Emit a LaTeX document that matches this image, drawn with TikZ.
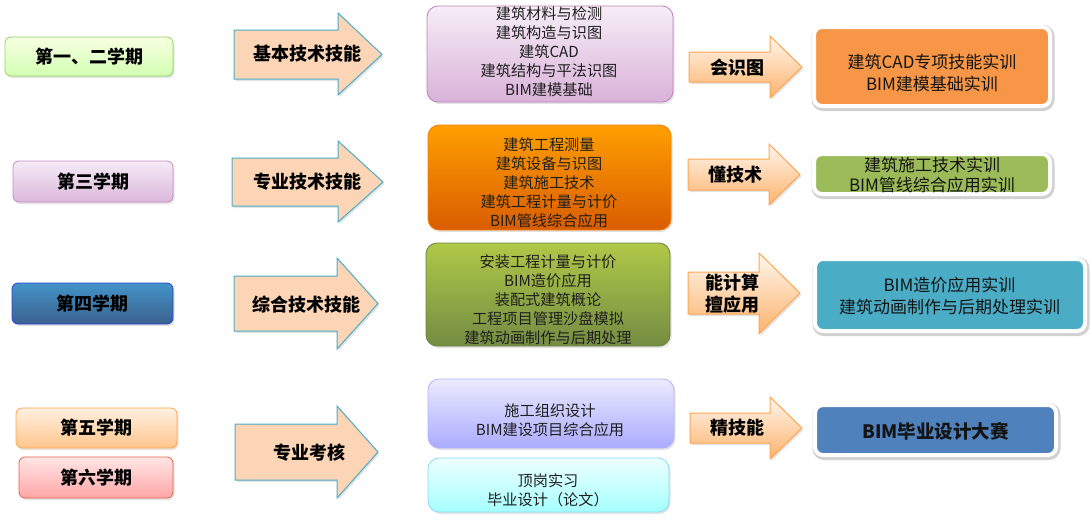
\documentclass[tikz,border=0pt]{standalone}
\usepackage{fontspec}
\setmainfont{Noto Sans CJK SC}
\usetikzlibrary{shadows}
\definecolor{rorange}{HTML}{F79646}
\definecolor{rgreen}{HTML}{9BBB59}
\definecolor{rteal}{HTML}{4BACC6}
\definecolor{rblue}{HTML}{4F81BD}
\definecolor{peach}{HTML}{FBD5B5}
\definecolor{bigedge}{HTML}{4BACC6}
\newcommand\blkarrow[8]{%
  \path[#1] (#2,#3) -- (#5,#3) -- (#5,#6) -- (#8,{(#3+#4)/2}) -- (#5,#7) -- (#5,#4) -- (#2,#4) -- cycle;}
\tikzset{
  shad/.style={drop shadow={opacity=0.22,shadow xshift=1.5pt,shadow yshift=-2pt}},
  sem/.style={rounded corners=6pt, line width=0.8pt, shad, inner sep=0pt,
    font=\fontsize{18}{22}\selectfont\bfseries},
  mbox/.style={rounded corners=11pt, line width=0.8pt, shad, inner sep=0pt},
  mtext/.style={align=center, inner sep=0pt, text=black!88,
    font=\fontsize{15.2}{19}\selectfont},
  rbox/.style={rounded corners=8pt, draw=white, line width=4pt, inner sep=0pt,
    drop shadow={opacity=0.18, shadow xshift=1pt, shadow yshift=-1.5pt,
      fill=black, draw=black, line width=7pt}},
  rtext/.style={align=center, inner sep=0pt, text=black!92,
    font=\fontsize{17}{22}\selectfont},
  lbl/.style={inner sep=0pt, align=center, font=\fontsize{18}{22}\selectfont\bfseries},
  bigarr/.style={fill=peach, draw=bigedge, line width=1pt, line join=miter, shad},
  smallarr/.style={top color=orange!7!white, bottom color=orange!40!peach,
    draw=orange!55!peach, line width=1pt, shad},
}
\begin{document}
\begin{tikzpicture}[x=1pt,y=-1pt]
\useasboundingbox (0,0) rectangle (1090,520);

% semester boxes
\node[sem, draw=green!45!olive!60, top color=lime!12!white, bottom color=lime!55!green!30!white,
  minimum width=168pt, minimum height=39pt] (s12) at (89,56.5) {第一、二学期};
\node[sem, draw=violet!45!white, top color=violet!8!white, bottom color=violet!28!white,
  minimum width=160pt, minimum height=41pt] (s3) at (93,181.5) {第三学期};
\node[sem, draw=blue!50!rblue, top color=rblue!85!cyan, bottom color=rblue!75!black,
  minimum width=161pt, minimum height=41pt] (s4) at (92.5,303.5) {第四学期};
\node[sem, draw=orange!70!white, top color=orange!12!white, bottom color=orange!45!white,
  minimum width=161pt, minimum height=40pt] (s5) at (96.5,428) {第五学期};
\node[sem, draw=red!55!brown!80, top color=red!10!white, bottom color=red!35!white,
  minimum width=154pt, minimum height=41pt] (s6) at (96,477.5) {第六学期};

% big arrows
\blkarrow{bigarr}{234}{30}{79}{338}{13}{95}{382}
\blkarrow{bigarr}{232}{158}{206}{338}{141}{222}{383}
\blkarrow{bigarr}{234}{276}{331}{337}{258}{349}{378}
\blkarrow{bigarr}{235}{424}{480}{337}{406}{498}{378}
\node[lbl] (k1) at (307,54) {基本技术技能};
\node[lbl] (k2) at (307,182) {专业技术技能};
\node[lbl] (k3) at (306,305) {综合技术技能};
\node[lbl] (k4) at (309,453) {专业考核};

% middle boxes
\node[mbox, draw=violet!50!white, top color=violet!7!white, bottom color=violet!30!white,
  minimum width=246pt, minimum height=96pt] (ba) at (550,54) {};
\node[mbox, draw=orange!80!brown, top color=orange!75!yellow, bottom color=orange!85!red!85!black,
  minimum width=243pt, minimum height=105pt] (bb) at (549.5,177.5) {};
\node[mbox, draw=rgreen!70!black, top color=rgreen!80!yellow, bottom color=rgreen!75!black,
  minimum width=244pt, minimum height=103pt] (bc) at (548,294.5) {};
\node[mbox, draw=blue!30!white, top color=blue!8!white, bottom color=blue!33!white,
  minimum width=246pt, minimum height=69pt] (bd) at (551,413.5) {};
\node[mbox, draw=cyan!45!white, top color=cyan!7!white, bottom color=cyan!35!white,
  minimum width=241pt, minimum height=54pt] (be) at (548.5,485) {};
\node[mtext] (ta) at (549,51.5) {建筑材料与检测\\建筑构造与识图\\建筑CAD\\建筑结构与平法识图\\BIM建模基础};
\node[mtext] (tb) at (549,182.5) {建筑工程测量\\建筑设备与识图\\建筑施工技术\\建筑工程计量与计价\\BIM管线综合应用};
\node[mtext] (tc) at (548,300) {安装工程计量与计价\\BIM造价应用\\装配式建筑概论\\工程项目管理沙盘模拟\\建筑动画制作与后期处理};
\node[mtext] (td) at (550,420) {施工组织设计\\BIM建设项目综合应用};
\node[mtext] (te) at (548,490.5) {顶岗实习\\毕业设计（论文）};

% small arrows
\blkarrow{smallarr}{689}{52}{82}{770}{36}{98}{802}
\blkarrow{smallarr}{688}{159}{190}{769}{144}{205}{800}
\blkarrow{smallarr}{688}{272}{314}{759}{253}{334}{800}
\blkarrow{smallarr}{690}{413}{443}{770}{397}{459}{802}
\node[lbl] (l1) at (737,68) {会识图};
\node[lbl] (l2) at (735,175) {懂技术};
\node[lbl] (l3) at (732,294) {能计算\\擅应用};
\node[lbl] (l4) at (737,428) {精技能};

% right boxes
\node[rbox, fill=rorange, minimum width=236pt, minimum height=79pt] (r1) at (932,66.5) {};
\node[rbox, fill=rgreen, minimum width=236pt, minimum height=40pt] (r2) at (932,174) {};
\node[rbox, fill=rteal, minimum width=270pt, minimum height=72pt] (r3) at (950,295) {};
\node[rbox, fill=rblue, minimum width=241pt, minimum height=50pt] (r4) at (935.5,430) {};
\node[rtext] (t1) at (932,73) {建筑CAD专项技能实训\\BIM建模基础实训};
\node[rtext, font=\fontsize{17}{20.5}\selectfont] (t2) at (932,175) {建筑施工技术实训\\BIM管线综合应用实训};
\node[rtext] (t3) at (949.5,296) {BIM造价应用实训\\建筑动画制作与后期处理实训};
\node[rtext, font=\fontsize{18.5}{22}\selectfont\bfseries] (t4) at (935.5,431) {BIM毕业设计大赛};
\end{tikzpicture}
\end{document}
